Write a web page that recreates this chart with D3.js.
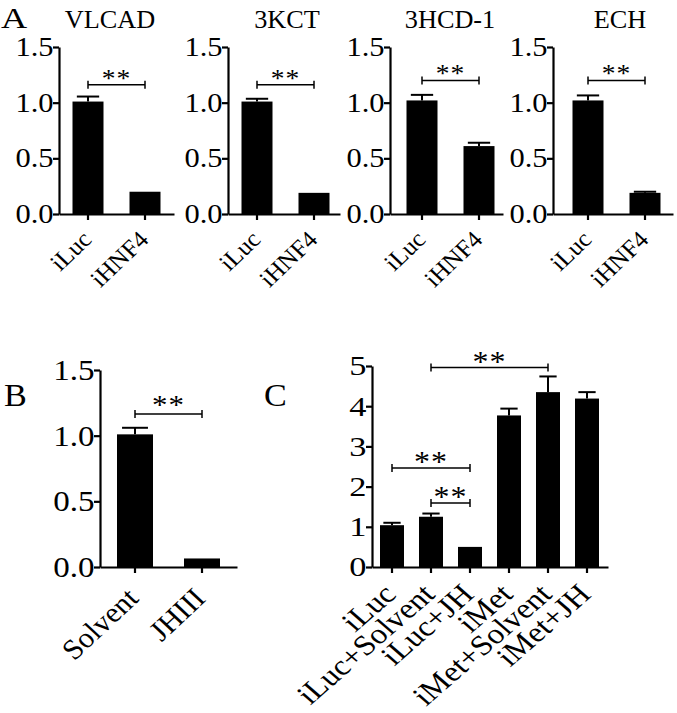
<!DOCTYPE html>
<html><head><meta charset="utf-8">
<script src="https://cdn.jsdelivr.net/npm/d3@7"></script>
<style>body{margin:0;background:#fff} svg{display:block}</style>
</head><body>
<svg id="chart" width="677" height="713"></svg>
<script>
// ---------------- DATA ----------------
const genesA = ["VLCAD", "3KCT", "3HCD-1", "ECH"];
const groupsA = ["iLuc", "iHNF4"];
const meansA = [[1.01, 0.20], [1.01, 0.19], [1.02, 0.61], [1.02, 0.19]];
const errsA  = [[0.045, 0], [0.025, 0], [0.05, 0.03], [0.045, 0.01]];
const sigA   = [1.16, 1.16, 1.2, 1.2];
const yTicksA = [0, 0.5, 1.0, 1.5];

const groupsB = ["Solvent", "JHIII"];
const meansB = [1.01, 0.065];
const errsB  = [0.05, 0];
const sigB   = 1.165;
const yTicksB = [0, 0.5, 1.0, 1.5];

const groupsC = ["iLuc", "iLuc+Solvent", "iLuc+JH", "iMet", "iMet+Solvent", "iMet+JH"];
const meansC = [1.04, 1.25, 0.50, 3.77, 4.35, 4.19];
const errsC  = [0.06, 0.08, 0, 0.17, 0.39, 0.16];
const sigC = [
  {from: "iLuc+Solvent", to: "iMet+Solvent", v: 4.96},
  {from: "iLuc", to: "iLuc+JH", v: 2.46},
  {from: "iLuc+Solvent", to: "iLuc+JH", v: 1.59}
];
const yTicksC = [0, 1, 2, 3, 4, 5];

// ---------------- LAYOUT ----------------
const FONT = "'Liberation Serif','Times New Roman',Times,serif";
const svg = d3.select("#chart").style("font-family", FONT);

function bandScale(domain, L, R, c0, step, bw) {
  const n = domain.length, pi = 1 - bw / step;
  const po = ((R - L) / step - n + pi) / 2;
  const free = (R - L) - step * (n - pi);
  const align = free > 0 ? (c0 - bw / 2 - L) / free : 0.5;
  return d3.scaleBand().domain(domain).range([L, R])
    .paddingInner(pi).paddingOuter(po).align(align);
}

function label(x, y, size, txt, anchor, sx) {
  return svg.append("text").attr("transform", `translate(${x},${y}) scale(${sx},1)`)
    .attr("font-size", size).attr("text-anchor", anchor || "start").attr("fill", "#000").text(txt);
}

function drawPanel(cfg) {
  const x = bandScale(cfg.groups, cfg.L, cfg.R, cfg.c0, cfg.step, cfg.bw);
  const y = d3.scaleLinear().domain([0, cfg.yMax]).range([cfg.y0, cfg.y1]);
  const g = svg.append("g");
  const cx = d => x(d) + x.bandwidth() / 2;

  // bars
  g.selectAll("rect.bar").data(cfg.groups).join("rect")
    .attr("class", "bar")
    .attr("x", d => x(d)).attr("width", x.bandwidth())
    .attr("y", (d, i) => y(cfg.means[i]))
    .attr("height", (d, i) => y(0) - y(cfg.means[i]))
    .attr("fill", "#000");

  // error bars (upper only)
  const capW = x.bandwidth() * 0.72;
  const eb = g.selectAll("g.err")
    .data(cfg.groups.map((d, i) => ({d, m: cfg.means[i], e: cfg.errs[i]})).filter(o => o.e > 0))
    .join("g").attr("class", "err").attr("stroke", "#000").attr("stroke-width", 2);
  eb.append("line").attr("x1", o => cx(o.d)).attr("x2", o => cx(o.d))
    .attr("y1", o => y(o.m)).attr("y2", o => y(o.m + o.e));
  eb.append("line").attr("x1", o => cx(o.d) - capW / 2).attr("x2", o => cx(o.d) + capW / 2)
    .attr("y1", o => y(o.m + o.e)).attr("y2", o => y(o.m + o.e));

  // y axis
  const ya = g.append("g").attr("transform", `translate(${cfg.L},0)`)
    .call(d3.axisLeft(y).tickValues(cfg.ticks).tickFormat(cfg.fmt).tickSize(6).tickSizeOuter(0).tickPadding(0));
  ya.attr("font-family", FONT).attr("font-size", cfg.tickFont);
  ya.selectAll("path,line").attr("stroke-width", 2.2);
  ya.selectAll("text").attr("fill", "#000").attr("x", 0)
    .attr("transform", `translate(-5.5,0) scale(${cfg.tickSX},1)`);

  // x axis with rotated category labels
  const xa = g.append("g").attr("transform", `translate(0,${cfg.y0})`)
    .call(d3.axisBottom(x).tickSize(6).tickSizeOuter(0));
  xa.attr("font-family", FONT).attr("font-size", cfg.labelFont);
  xa.selectAll("path,line").attr("stroke-width", 2.2);
  xa.selectAll("text")
    .attr("fill", "#000")
    .attr("text-anchor", "end")
    .attr("y", null).attr("dy", null)
    .attr("transform", `translate(${cfg.lx},${cfg.ly}) scale(${cfg.labelSX},1) rotate(-45)`);

  // significance brackets
  cfg.brackets.forEach(b => {
    const x1 = cx(b.from), x2 = cx(b.to), yy = y(b.v);
    const bg = g.append("g").attr("stroke", "#000").attr("stroke-width", 1.5);
    bg.append("line").attr("x1", x1).attr("x2", x2).attr("y1", yy).attr("y2", yy);
    bg.append("line").attr("x1", x1).attr("x2", x1).attr("y1", yy - 4).attr("y2", yy + 4);
    bg.append("line").attr("x1", x2).attr("x2", x2).attr("y1", yy - 4).attr("y2", yy + 4);
    g.append("text").attr("transform", `translate(${(x1 + x2) / 2},${yy + cfg.starDy}) scale(1.1,1)`)
      .attr("text-anchor", "middle").attr("font-size", cfg.starFont)
      .attr("letter-spacing", 1).attr("fill", "#000").text("**");
  });
}

// Panel A
const panelA = [
  {L: 59, R: 174, c0: 88, tx: 110},
  {L: 228, R: 340, c0: 257, tx: 287},
  {L: 390, R: 503, c0: 422, tx: 450},
  {L: 553, R: 673, c0: 588, tx: 620}
];
genesA.forEach((gene, k) => {
  const p = panelA[k];
  drawPanel({
    groups: groupsA, means: meansA[k], errs: errsA[k],
    L: p.L, R: p.R, c0: p.c0, step: 57, bw: 31,
    y0: 214, y1: 47, yMax: 1.5, ticks: yTicksA, fmt: d3.format(".1f"),
    tickFont: 26.5, tickSX: 1.15,
    labelFont: 24, labelSX: 1.05, lx: 5, ly: 27,
    brackets: [{from: groupsA[0], to: groupsA[1], v: sigA[k]}],
    starFont: 25, starDy: 2
  });
  label(p.tx, 28, 25, gene, "middle", 1.05);
});

// Panel B
drawPanel({
  groups: groupsB, means: meansB, errs: errsB,
  L: 100, R: 237, c0: 135, step: 67, bw: 36,
  y0: 567, y1: 370, yMax: 1.5, ticks: yTicksB, fmt: d3.format(".1f"),
  tickFont: 29.5, tickSX: 1.12,
  labelFont: 28.5, labelSX: 1.07, lx: 5, ly: 33,
  brackets: [{from: groupsB[0], to: groupsB[1], v: sigB}],
  starFont: 28, starDy: 0
});

// Panel C
drawPanel({
  groups: groupsC, means: meansC, errs: errsC,
  L: 372, R: 608, c0: 392, step: 39, bw: 24,
  y0: 567, y1: 366, yMax: 5, ticks: yTicksC, fmt: d3.format("d"),
  tickFont: 27.5, tickSX: 1.25,
  labelFont: 28.5, labelSX: 1.15, lx: 5.5, ly: 29,
  brackets: sigC,
  starFont: 29, starDy: 3
});

// Panel letters
label(1, 28, 29, "A", "start", 1.25);
label(4, 406, 31, "B", "start", 1.1);
label(264, 406, 31, "C", "start", 1.1);
</script>
</body></html>
